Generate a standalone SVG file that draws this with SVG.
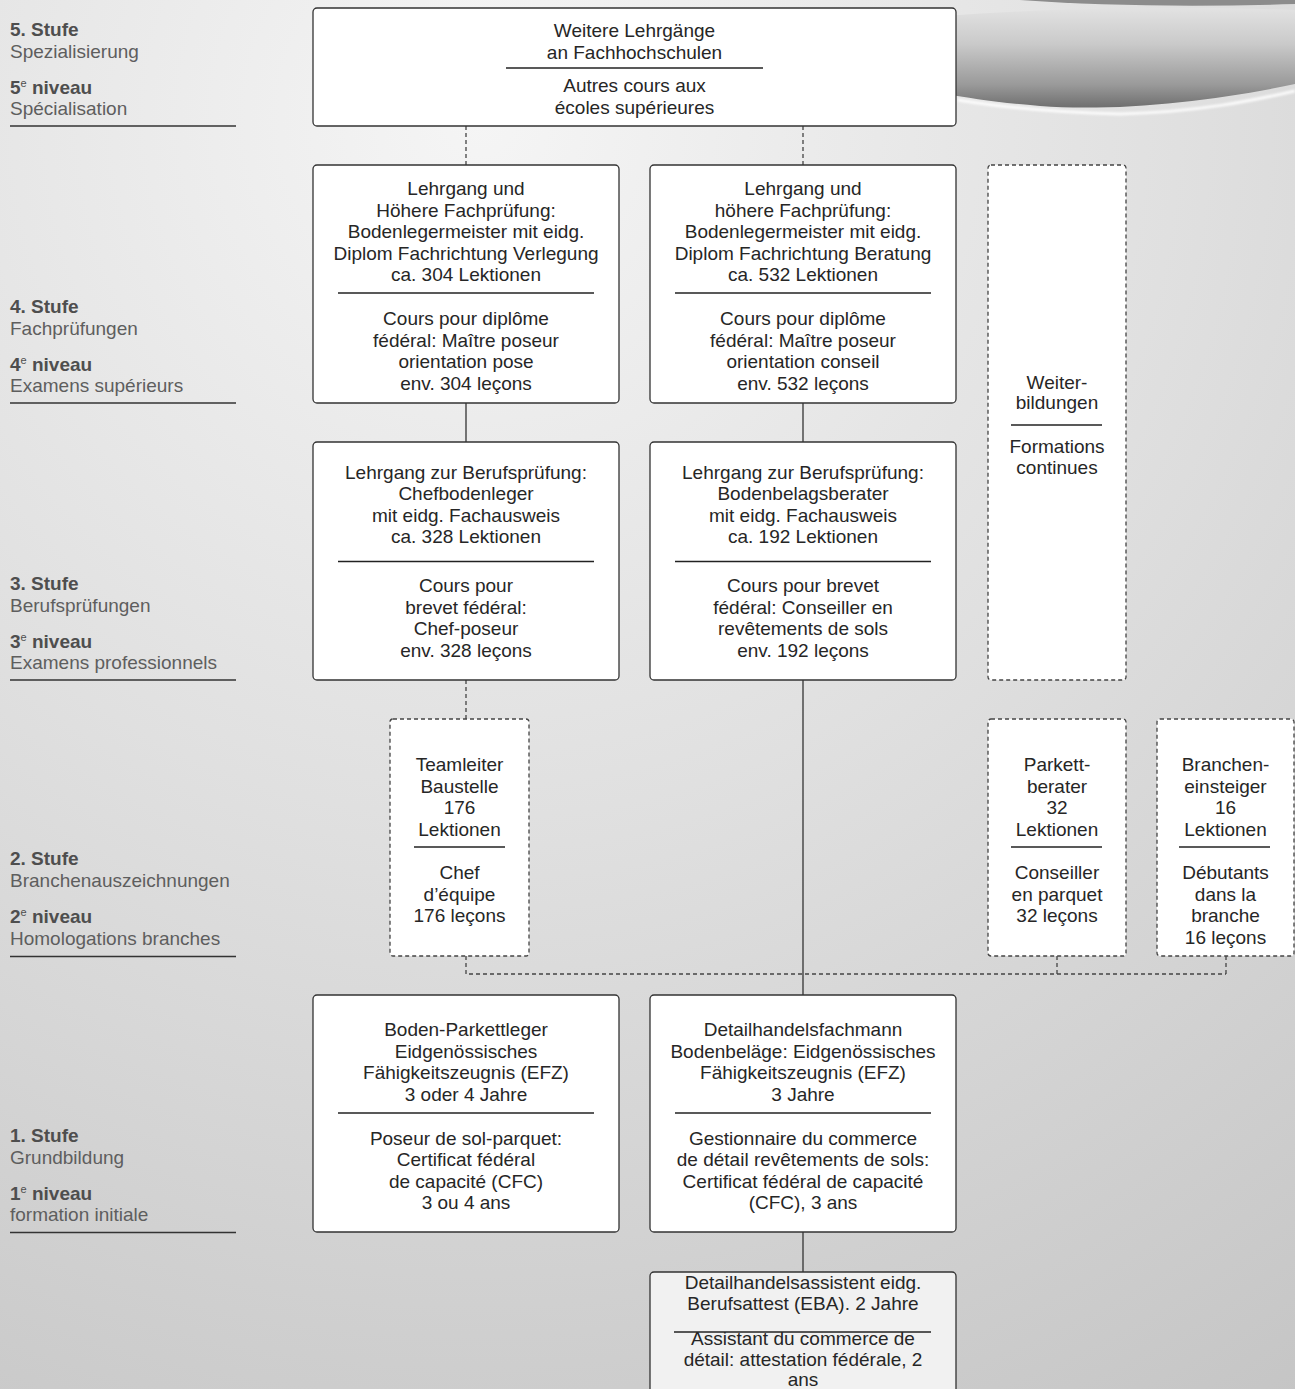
<svg xmlns="http://www.w3.org/2000/svg" width="1295" height="1389" viewBox="0 0 1295 1389">
<defs>
<radialGradient id="bg" cx="480" cy="120" r="1550" gradientUnits="userSpaceOnUse">
<stop offset="0" stop-color="#f5f5f5"/>
<stop offset="0.45" stop-color="#e0e0e0"/>
<stop offset="1" stop-color="#c4c4c4"/>
</radialGradient>
<linearGradient id="sw" x1="0" y1="8" x2="0" y2="110" gradientUnits="userSpaceOnUse">
<stop offset="0" stop-color="#e2e2e2"/>
<stop offset="0.35" stop-color="#cacaca"/>
<stop offset="0.75" stop-color="#9a9a9a"/>
<stop offset="1" stop-color="#6a6a6a"/>
</linearGradient>
<filter id="blur" x="-5%" y="-50%" width="110%" height="200%"><feGaussianBlur stdDeviation="1.2"/></filter>
</defs>
<style>
.box{fill:#ffffff;stroke:#333333;stroke-width:1.3}
.dbox{fill:#ffffff;stroke:#444444;stroke-width:1.3;stroke-dasharray:4 3}
.gbox{fill:#f1f1f1;stroke:#333333;stroke-width:1.3}
.t{font-family:"Liberation Sans",Arial,sans-serif;font-size:19px;fill:#262626;text-anchor:middle}
.div{stroke:#222222;stroke-width:1.3}
.c{stroke:#333333;stroke-width:1.3;fill:none}
.cd{stroke:#444444;stroke-width:1.3;fill:none;stroke-dasharray:4 3}
.lb{font-family:"Liberation Sans",Arial,sans-serif;font-size:19px;font-weight:bold;fill:#4e4e4e}
.ln{font-family:"Liberation Sans",Arial,sans-serif;font-size:19px;fill:#5e5e5e}
.sup{font-size:11px;font-weight:normal}
.rule{stroke:#333333;stroke-width:1.5}
</style>
<rect x="0" y="0" width="1295" height="1389" fill="url(#bg)"/>
<g id="swoosh">
<path d="M1020,0 L1295,0 L1295,4 C1200,7 1100,6 1020,0 Z" fill="#8c8c8c"/>
<path d="M945,16 C1050,8 1180,6 1295,10 L1295,84 C1220,100 1120,112 1040,106 C1000,103 970,98 945,94 Z" fill="url(#sw)"/>
<path d="M958,100 C1000,107 1050,112 1120,114 C1200,112 1255,100 1295,91" stroke="#ffffff" stroke-width="3" fill="none" opacity="0.85" filter="url(#blur)"/>
</g>
<g id="levels">
<text class="lb" x="10" y="36">5. Stufe</text>
<text class="ln" x="10" y="57.5">Spezialisierung</text>
<text class="lb" x="10" y="93.5">5<tspan class="sup" dy="-7">e</tspan><tspan dy="7"> niveau</tspan></text>
<text class="ln" x="10" y="115">Spécialisation</text>
<line class="rule" x1="10" y1="126" x2="236" y2="126"/>
<text class="lb" x="10" y="313">4. Stufe</text>
<text class="ln" x="10" y="334.5">Fachprüfungen</text>
<text class="lb" x="10" y="370.5">4<tspan class="sup" dy="-7">e</tspan><tspan dy="7"> niveau</tspan></text>
<text class="ln" x="10" y="392">Examens supérieurs</text>
<line class="rule" x1="10" y1="403" x2="236" y2="403"/>
<text class="lb" x="10" y="590">3. Stufe</text>
<text class="ln" x="10" y="611.5">Berufsprüfungen</text>
<text class="lb" x="10" y="647.5">3<tspan class="sup" dy="-7">e</tspan><tspan dy="7"> niveau</tspan></text>
<text class="ln" x="10" y="669">Examens professionnels</text>
<line class="rule" x1="10" y1="680" x2="236" y2="680"/>
<text class="lb" x="10" y="865">2. Stufe</text>
<text class="ln" x="10" y="886.5">Branchenauszeichnungen</text>
<text class="lb" x="10" y="923">2<tspan class="sup" dy="-7">e</tspan><tspan dy="7"> niveau</tspan></text>
<text class="ln" x="10" y="944.5">Homologations branches</text>
<line class="rule" x1="10" y1="956.5" x2="236" y2="956.5"/>
<text class="lb" x="10" y="1142">1. Stufe</text>
<text class="ln" x="10" y="1163.5">Grundbildung</text>
<text class="lb" x="10" y="1199.5">1<tspan class="sup" dy="-7">e</tspan><tspan dy="7"> niveau</tspan></text>
<text class="ln" x="10" y="1221">formation initiale</text>
<line class="rule" x1="10" y1="1232.5" x2="236" y2="1232.5"/>
</g>
<g id="connectors">
<line class="cd" x1="466" y1="126" x2="466" y2="165"/>
<line class="cd" x1="803" y1="126" x2="803" y2="165"/>
<line class="c" x1="466" y1="403" x2="466" y2="443"/>
<line class="c" x1="803" y1="403" x2="803" y2="443"/>
<line class="cd" x1="466" y1="680" x2="466" y2="719"/>
<line class="c" x1="803" y1="680" x2="803" y2="995"/>
<path class="cd" d="M466,956 L466,974 L1226,974"/>
<line class="cd" x1="1057" y1="956" x2="1057" y2="974"/>
<line class="cd" x1="1226" y1="956" x2="1226" y2="974"/>
<line class="c" x1="803" y1="1232" x2="803" y2="1272"/>
</g>
<g id="n-top">
<rect class="box" x="313" y="8" width="643" height="118" rx="4"/>
<text class="t" x="634.5" y="37">Weitere Lehrgänge</text>
<text class="t" x="634.5" y="58.5">an Fachhochschulen</text>
<line class="div" x1="506" y1="68" x2="763" y2="68"/>
<text class="t" x="634.5" y="92">Autres cours aux</text>
<text class="t" x="634.5" y="113.5">écoles supérieures</text>
</g>
<g id="n-4a">
<rect class="box" x="313" y="165" width="306" height="238" rx="4"/>
<text class="t" x="466" y="195">Lehrgang und</text>
<text class="t" x="466" y="216.5">Höhere Fachprüfung:</text>
<text class="t" x="466" y="238">Bodenlegermeister mit eidg.</text>
<text class="t" x="466" y="259.5">Diplom Fachrichtung Verlegung</text>
<text class="t" x="466" y="281">ca. 304 Lektionen</text>
<line class="div" x1="338" y1="293" x2="594" y2="293"/>
<text class="t" x="466" y="325">Cours pour diplôme</text>
<text class="t" x="466" y="346.5">fédéral: Maître poseur</text>
<text class="t" x="466" y="368">orientation pose</text>
<text class="t" x="466" y="389.5">env. 304 leçons</text>
</g>
<g id="n-4b">
<rect class="box" x="650" y="165" width="306" height="238" rx="4"/>
<text class="t" x="803" y="195">Lehrgang und</text>
<text class="t" x="803" y="216.5">höhere Fachprüfung:</text>
<text class="t" x="803" y="238">Bodenlegermeister mit eidg.</text>
<text class="t" x="803" y="259.5">Diplom Fachrichtung Beratung</text>
<text class="t" x="803" y="281">ca. 532 Lektionen</text>
<line class="div" x1="675" y1="293" x2="931" y2="293"/>
<text class="t" x="803" y="325">Cours pour diplôme</text>
<text class="t" x="803" y="346.5">fédéral: Maître poseur</text>
<text class="t" x="803" y="368">orientation conseil</text>
<text class="t" x="803" y="389.5">env. 532 leçons</text>
</g>
<g id="n-weiter">
<rect class="dbox" x="988" y="165" width="138" height="515" rx="3"/>
<text class="t" x="1057" y="388.5">Weiter-</text>
<text class="t" x="1057" y="409">bildungen</text>
<line class="div" x1="1011" y1="425" x2="1102" y2="425"/>
<text class="t" x="1057" y="453">Formations</text>
<text class="t" x="1057" y="474">continues</text>
</g>
<g id="n-3a">
<rect class="box" x="313" y="442" width="306" height="238" rx="4"/>
<text class="t" x="466" y="478.5">Lehrgang zur Berufsprüfung:</text>
<text class="t" x="466" y="500">Chefbodenleger</text>
<text class="t" x="466" y="521.5">mit eidg. Fachausweis</text>
<text class="t" x="466" y="543">ca. 328 Lektionen</text>
<line class="div" x1="338" y1="561.5" x2="594" y2="561.5"/>
<text class="t" x="466" y="592">Cours pour</text>
<text class="t" x="466" y="613.5">brevet fédéral:</text>
<text class="t" x="466" y="635">Chef-poseur</text>
<text class="t" x="466" y="656.5">env. 328 leçons</text>
</g>
<g id="n-3b">
<rect class="box" x="650" y="442" width="306" height="238" rx="4"/>
<text class="t" x="803" y="478.5">Lehrgang zur Berufsprüfung:</text>
<text class="t" x="803" y="500">Bodenbelagsberater</text>
<text class="t" x="803" y="521.5">mit eidg. Fachausweis</text>
<text class="t" x="803" y="543">ca. 192 Lektionen</text>
<line class="div" x1="675" y1="561.5" x2="931" y2="561.5"/>
<text class="t" x="803" y="592">Cours pour brevet</text>
<text class="t" x="803" y="613.5">fédéral: Conseiller en</text>
<text class="t" x="803" y="635">revêtements de sols</text>
<text class="t" x="803" y="656.5">env. 192 leçons</text>
</g>
<g id="n-team">
<rect class="dbox" x="390" y="719" width="139" height="237" rx="3"/>
<text class="t" x="459.5" y="771">Teamleiter</text>
<text class="t" x="459.5" y="792.5">Baustelle</text>
<text class="t" x="459.5" y="814">176</text>
<text class="t" x="459.5" y="835.5">Lektionen</text>
<line class="div" x1="414" y1="847" x2="505" y2="847"/>
<text class="t" x="459.5" y="879">Chef</text>
<text class="t" x="459.5" y="900.5">d’équipe</text>
<text class="t" x="459.5" y="922">176 leçons</text>
</g>
<g id="n-parkett">
<rect class="dbox" x="988" y="719" width="138" height="237" rx="3"/>
<text class="t" x="1057" y="771">Parkett-</text>
<text class="t" x="1057" y="792.5">berater</text>
<text class="t" x="1057" y="814">32</text>
<text class="t" x="1057" y="835.5">Lektionen</text>
<line class="div" x1="1011" y1="847" x2="1102" y2="847"/>
<text class="t" x="1057" y="879">Conseiller</text>
<text class="t" x="1057" y="900.5">en parquet</text>
<text class="t" x="1057" y="922">32 leçons</text>
</g>
<g id="n-branchen">
<rect class="dbox" x="1157" y="719" width="137" height="237" rx="3"/>
<text class="t" x="1225.5" y="771">Branchen-</text>
<text class="t" x="1225.5" y="792.5">einsteiger</text>
<text class="t" x="1225.5" y="814">16</text>
<text class="t" x="1225.5" y="835.5">Lektionen</text>
<line class="div" x1="1179" y1="847" x2="1270" y2="847"/>
<text class="t" x="1225.5" y="879">Débutants</text>
<text class="t" x="1225.5" y="900.5">dans la</text>
<text class="t" x="1225.5" y="922">branche</text>
<text class="t" x="1225.5" y="943.5">16 leçons</text>
</g>
<g id="n-1a">
<rect class="box" x="313" y="995" width="306" height="237" rx="4"/>
<text class="t" x="466" y="1036">Boden-Parkettleger</text>
<text class="t" x="466" y="1057.5">Eidgenössisches</text>
<text class="t" x="466" y="1079">Fähigkeitszeugnis (EFZ)</text>
<text class="t" x="466" y="1100.5">3 oder 4 Jahre</text>
<line class="div" x1="338" y1="1113" x2="594" y2="1113"/>
<text class="t" x="466" y="1144.5">Poseur de sol-parquet:</text>
<text class="t" x="466" y="1166">Certificat fédéral</text>
<text class="t" x="466" y="1187.5">de capacité (CFC)</text>
<text class="t" x="466" y="1209">3 ou 4 ans</text>
</g>
<g id="n-1b">
<rect class="box" x="650" y="995" width="306" height="237" rx="4"/>
<text class="t" x="803" y="1036">Detailhandelsfachmann</text>
<text class="t" x="803" y="1057.5">Bodenbeläge: Eidgenössisches</text>
<text class="t" x="803" y="1079">Fähigkeitszeugnis (EFZ)</text>
<text class="t" x="803" y="1100.5">3 Jahre</text>
<line class="div" x1="675" y1="1113" x2="931" y2="1113"/>
<text class="t" x="803" y="1144.5">Gestionnaire du commerce</text>
<text class="t" x="803" y="1166">de détail revêtements de sols:</text>
<text class="t" x="803" y="1187.5">Certificat fédéral de capacité</text>
<text class="t" x="803" y="1209">(CFC), 3 ans</text>
</g>
<g id="n-eba">
<rect class="gbox" x="650" y="1272" width="306" height="130" rx="4"/>
<text class="t" x="803" y="1288.5">Detailhandelsassistent eidg.</text>
<text class="t" x="803" y="1309.5">Berufsattest (EBA). 2 Jahre</text>
<line class="div" x1="674" y1="1332" x2="931" y2="1332"/>
<text class="t" x="803" y="1345">Assistant du commerce de</text>
<text class="t" x="803" y="1365.5">détail: attestation fédérale, 2</text>
<text class="t" x="803" y="1385.5">ans</text>
</g>
</svg>
